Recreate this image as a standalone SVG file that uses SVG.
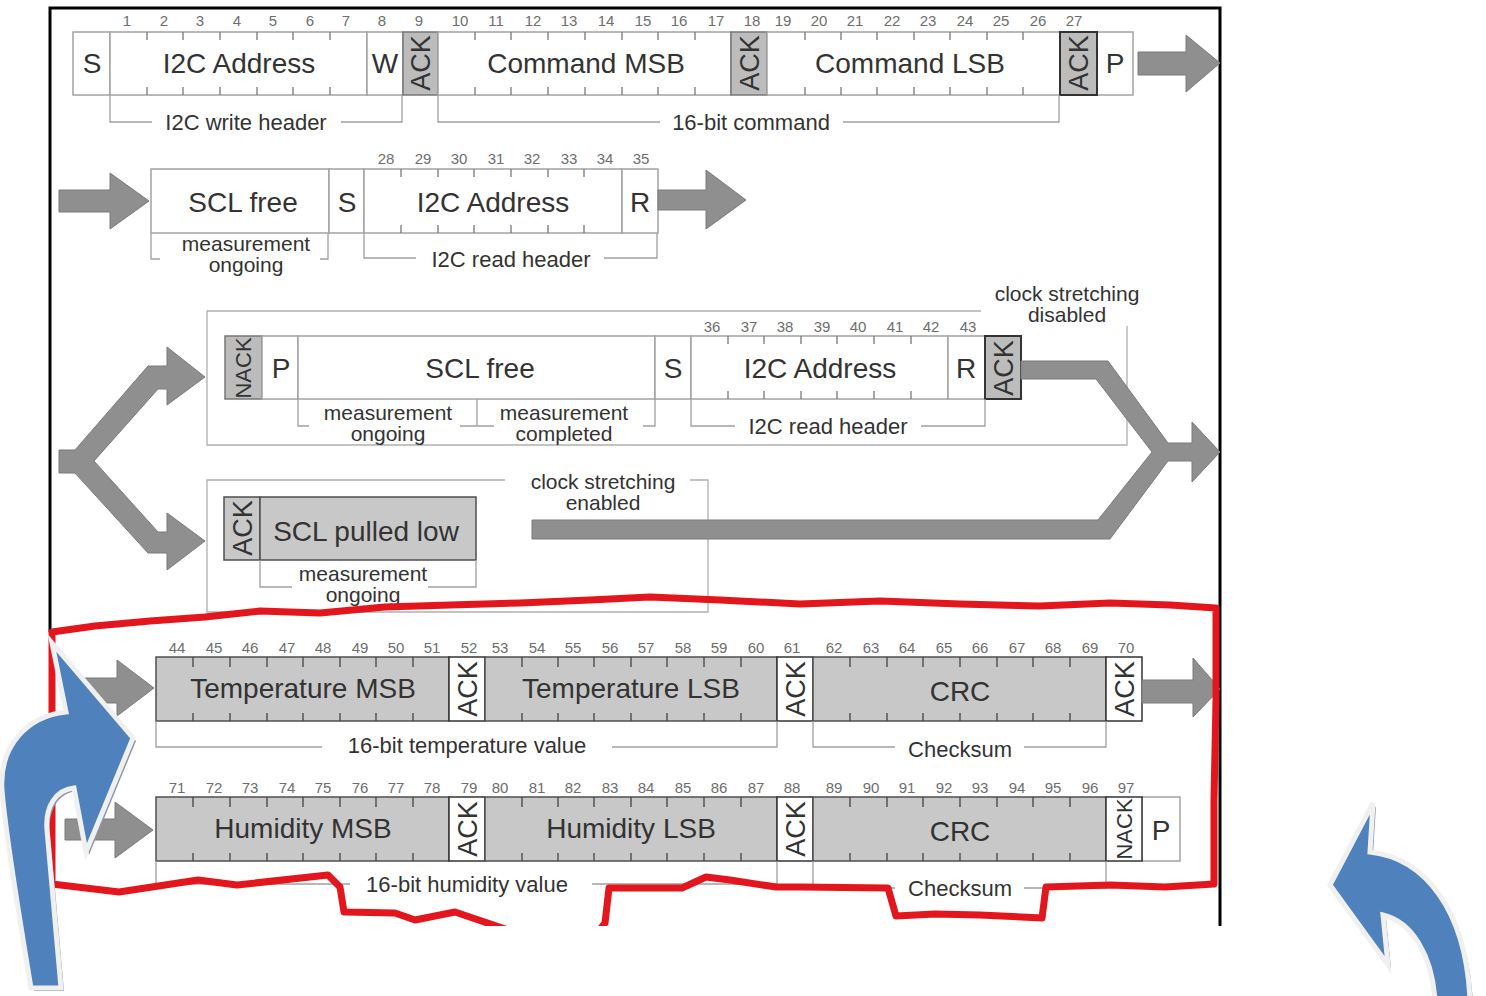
<svg xmlns="http://www.w3.org/2000/svg" width="1486" height="996" viewBox="0 0 1486 996">
<style>
text{font-family:"Liberation Sans",Arial,sans-serif;fill:#333;text-anchor:middle}
.L{font-size:28px}
.M{font-size:22px}
.S{font-size:21px}
.R{font-size:27px}
.N{font-size:22px}
.n{font-size:15px;fill:#6e6e6e}
.bx{fill:#fff;stroke:#a3a3a3;stroke-width:1.5}
.ak{fill:#bcbcbc;stroke:#777;stroke-width:1.5}
.akd{fill:#bcbcbc;stroke:#333;stroke-width:2}
.gb{fill:#c8c8c8;stroke:#4f4f4f;stroke-width:1.5}
.wb{fill:#fff;stroke:#333;stroke-width:1.5}
.tk{fill:none;stroke:#777;stroke-width:1.3}
.tkd{fill:none;stroke:#444;stroke-width:1.3}
.br{fill:none;stroke:#a0a0a0;stroke-width:1.3}
.fr{fill:none;stroke:#b0b0b0;stroke-width:1.3}
.ga{fill:#8f8f8f;stroke:#7b7b7b;stroke-width:1}
.blue{fill:#4f81bd;stroke:#f0f0f0;stroke-width:5;stroke-linejoin:miter}
.shadow{fill:#8a97a8}
</style>
<defs>
<clipPath id="cut"><rect x="0" y="0" width="1486" height="926"/></clipPath>
</defs>
<rect width="1486" height="996" fill="#fff"/>
<g id="frame" fill="none" stroke="#000" stroke-width="3">
<path d="M50 632V8H1220V926"/>
</g>

<!-- Row 1 -->
<g id="row1">
<g id="r1-S"><rect class="bx" x="73" y="32" width="37" height="63"/><text class="L" x="92" y="73">S</text></g>
<g id="r1-addr"><rect class="bx" x="110" y="32" width="257" height="63"/><text class="L" x="239" y="73">I2C Address</text></g>
<g id="r1-W"><rect class="bx" x="367" y="32" width="36" height="63"/><text class="L" x="385" y="73">W</text></g>
<g id="r1-ack1"><rect class="ak" x="403" y="32" width="35" height="63"/><text class="R" transform="translate(420,63) rotate(-90)" y="10">ACK</text></g>
<g id="r1-cmsb"><rect class="bx" x="438" y="32" width="293" height="63"/><text class="L" x="586" y="73">Command MSB</text></g>
<g id="r1-ack2"><rect class="ak" x="731" y="32" width="36" height="63"/><text class="R" transform="translate(749,63) rotate(-90)" y="10">ACK</text></g>
<g id="r1-clsb"><rect class="bx" x="767" y="32" width="293" height="63"/><text class="L" x="910" y="73">Command LSB</text></g>
<g id="r1-P"><rect class="bx" x="1097" y="32" width="36" height="63"/><text class="L" x="1115" y="73">P</text></g>
<g id="r1-ack3"><rect class="akd" x="1060" y="32" width="37" height="63"/><text class="R" transform="translate(1078,63) rotate(-90)" y="10">ACK</text></g>
<path class="tk" d="M147 32v8M147 95v-8M183 32v8M183 95v-8M220 32v8M220 95v-8M257 32v8M257 95v-8M293 32v8M293 95v-8M330 32v8M330 95v-8M475 32v8M475 95v-8M511 32v8M511 95v-8M548 32v8M548 95v-8M585 32v8M585 95v-8M622 32v8M622 95v-8M658 32v8M658 95v-8M695 32v8M695 95v-8M805 32v8M805 95v-8M841 32v8M841 95v-8M877 32v8M877 95v-8M914 32v8M914 95v-8M950 32v8M950 95v-8M987 32v8M987 95v-8M1023 32v8M1023 95v-8"/>
<g class="nums">
<text class="n" x="127" y="26">1</text><text class="n" x="164" y="26">2</text><text class="n" x="200" y="26">3</text><text class="n" x="237" y="26">4</text><text class="n" x="273" y="26">5</text><text class="n" x="310" y="26">6</text><text class="n" x="346" y="26">7</text><text class="n" x="382" y="26">8</text><text class="n" x="419" y="26">9</text><text class="n" x="460" y="26">10</text><text class="n" x="496" y="26">11</text><text class="n" x="533" y="26">12</text><text class="n" x="569" y="26">13</text><text class="n" x="606" y="26">14</text><text class="n" x="643" y="26">15</text><text class="n" x="679" y="26">16</text><text class="n" x="716" y="26">17</text><text class="n" x="752" y="26">18</text><text class="n" x="783" y="26">19</text><text class="n" x="819" y="26">20</text><text class="n" x="855" y="26">21</text><text class="n" x="892" y="26">22</text><text class="n" x="928" y="26">23</text><text class="n" x="965" y="26">24</text><text class="n" x="1001" y="26">25</text><text class="n" x="1038" y="26">26</text><text class="n" x="1074" y="26">27</text>
</g>
<g id="r1-brackets">
<path class="br" d="M110 95V122H152M341 122H402V95M438 95V122H660M843 122H1059V95"/>
<text class="M" x="246" y="130">I2C write header</text>
<text class="M" x="751" y="130">16-bit command</text>
</g>
</g>

<!-- Row 2 -->
<g id="row2">
<g id="r2-scl"><rect class="bx" x="151" y="169" width="178" height="64"/><text class="L" x="243" y="212">SCL free</text></g>
<g id="r2-S"><rect class="bx" x="329" y="169" width="35" height="64"/><text class="L" x="347" y="212">S</text></g>
<g id="r2-addr"><rect class="bx" x="364" y="169" width="258" height="64"/><text class="L" x="493" y="212">I2C Address</text></g>
<g id="r2-R"><rect class="bx" x="622" y="169" width="36" height="64"/><text class="L" x="640" y="212">R</text></g>
<path class="tk" d="M401 169v8M401 233v-8M438 169v8M438 233v-8M474 169v8M474 233v-8M511 169v8M511 233v-8M548 169v8M548 233v-8M584 169v8M584 233v-8"/>
<text class="n" x="386" y="164">28</text><text class="n" x="423" y="164">29</text><text class="n" x="459" y="164">30</text><text class="n" x="496" y="164">31</text><text class="n" x="532" y="164">32</text><text class="n" x="569" y="164">33</text><text class="n" x="605" y="164">34</text><text class="n" x="641" y="164">35</text>
<path class="br" d="M151 233V259H160M320 259H328V233M364 233V258H416M604 258H657V233"/>
<text class="S" x="246" y="251">measurement</text><text class="S" x="246" y="272">ongoing</text>
<text class="M" x="511" y="267">I2C read header</text>
</g>

<!-- Row 3 -->
<g id="row3">
<path class="fr" d="M981 311H207V445H1127V326"/>
<text class="S" x="1067" y="301">clock stretching</text><text class="S" x="1067" y="322">disabled</text>
<g id="r3-nack"><rect class="ak" x="225" y="336" width="37" height="63"/><text class="N" transform="translate(243,368) rotate(-90)" y="8">NACK</text></g>
<g id="r3-P"><rect class="bx" x="262" y="336" width="36" height="63"/><text class="L" x="281" y="378">P</text></g>
<g id="r3-scl"><rect class="bx" x="298" y="336" width="357" height="63"/><text class="L" x="480" y="378">SCL free</text></g>
<g id="r3-S"><rect class="bx" x="655" y="336" width="36" height="63"/><text class="L" x="673" y="378">S</text></g>
<g id="r3-addr"><rect class="bx" x="691" y="336" width="257" height="63"/><text class="L" x="820" y="378">I2C Address</text></g>
<g id="r3-R"><rect class="bx" x="948" y="336" width="37" height="63"/><text class="L" x="966" y="378">R</text></g>
<g id="r3-ack"><rect class="akd" x="985" y="336" width="36" height="63"/><text class="R" transform="translate(1003,368) rotate(-90)" y="10">ACK</text></g>
<path class="tk" d="M728 336v8M728 399v-8M764 336v8M764 399v-8M801 336v8M801 399v-8M837 336v8M837 399v-8M874 336v8M874 399v-8M911 336v8M911 399v-8"/>
<text class="n" x="712" y="332">36</text><text class="n" x="749" y="332">37</text><text class="n" x="785" y="332">38</text><text class="n" x="822" y="332">39</text><text class="n" x="858" y="332">40</text><text class="n" x="895" y="332">41</text><text class="n" x="931" y="332">42</text><text class="n" x="968" y="332">43</text>
<path class="br" d="M298 399V426H309M460 426H494M477 426V399M643 426H655V399M691 399V426H735M921 426H985V399"/>
<text class="S" x="388" y="420">measurement</text><text class="S" x="388" y="441">ongoing</text>
<text class="S" x="564" y="420">measurement</text><text class="S" x="564" y="441">completed</text>
<text class="M" x="828" y="434">I2C read header</text>
</g>

<!-- Row 4 -->
<g id="row4">
<path class="fr" d="M505 480H207V612H708V480H690"/>
<text class="S" x="603" y="489">clock stretching</text><text class="S" x="603" y="510">enabled</text>
<g id="r4-ack"><rect class="gb" x="224" y="497" width="36" height="63"/><text class="R" transform="translate(242,528) rotate(-90)" y="10">ACK</text></g>
<g id="r4-scl"><rect class="gb" x="260" y="497" width="216" height="63"/><text class="L" x="366" y="541">SCL pulled low</text></g>
<path class="br" d="M260 560V587H292M428 587H476V560"/>
<text class="S" x="363" y="581">measurement</text><text class="S" x="363" y="602">ongoing</text>
</g>

<!-- Row 5 -->
<g id="row5">
<g id="r5-tmsb"><rect class="gb" x="156" y="657" width="293" height="64"/><text class="L" x="303" y="698">Temperature MSB</text></g>
<g id="r5-ack1"><rect class="wb" x="449" y="657" width="36" height="64"/><text class="R" transform="translate(467,689) rotate(-90)" y="10">ACK</text></g>
<g id="r5-tlsb"><rect class="gb" x="485" y="657" width="292" height="64"/><text class="L" x="631" y="698">Temperature LSB</text></g>
<g id="r5-ack2"><rect class="wb" x="777" y="657" width="36" height="64"/><text class="R" transform="translate(795,689) rotate(-90)" y="10">ACK</text></g>
<g id="r5-crc"><rect class="gb" x="813" y="657" width="293" height="64"/><text class="L" x="960" y="701">CRC</text></g>
<g id="r5-ack3"><rect class="wb" x="1106" y="657" width="36" height="64"/><text class="R" transform="translate(1124,689) rotate(-90)" y="10">ACK</text></g>
<path class="tkd" d="M193 657v10M193 721v-8M230 657v10M230 721v-8M267 657v10M267 721v-8M303 657v10M303 721v-8M340 657v10M340 721v-8M376 657v10M376 721v-8M413 657v10M413 721v-8M522 657v10M522 721v-8M558 657v10M558 721v-8M594 657v10M594 721v-8M631 657v10M631 721v-8M667 657v10M667 721v-8M704 657v10M704 721v-8M741 657v10M741 721v-8M850 657v10M850 721v-8M887 657v10M887 721v-8M923 657v10M923 721v-8M960 657v10M960 721v-8M997 657v10M997 721v-8M1033 657v10M1033 721v-8M1070 657v10M1070 721v-8"/>
<text class="n" x="177" y="653">44</text><text class="n" x="214" y="653">45</text><text class="n" x="250" y="653">46</text><text class="n" x="287" y="653">47</text><text class="n" x="323" y="653">48</text><text class="n" x="360" y="653">49</text><text class="n" x="396" y="653">50</text><text class="n" x="432" y="653">51</text><text class="n" x="469" y="653">52</text><text class="n" x="500" y="653">53</text><text class="n" x="537" y="653">54</text><text class="n" x="573" y="653">55</text><text class="n" x="610" y="653">56</text><text class="n" x="646" y="653">57</text><text class="n" x="683" y="653">58</text><text class="n" x="719" y="653">59</text><text class="n" x="756" y="653">60</text><text class="n" x="792" y="653">61</text><text class="n" x="834" y="653">62</text><text class="n" x="871" y="653">63</text><text class="n" x="907" y="653">64</text><text class="n" x="944" y="653">65</text><text class="n" x="980" y="653">66</text><text class="n" x="1017" y="653">67</text><text class="n" x="1053" y="653">68</text><text class="n" x="1090" y="653">69</text><text class="n" x="1126" y="653">70</text>
<path class="br" d="M156 721V747H322M612 747H777V721M813 721V747H895M1024 747H1106V721"/>
<text class="M" x="467" y="753">16-bit temperature value</text>
<text class="M" x="960" y="757">Checksum</text>
</g>

<!-- Row 6 -->
<g id="row6">
<g id="r6-hmsb"><rect class="gb" x="156" y="797" width="293" height="64"/><text class="L" x="303" y="838">Humidity MSB</text></g>
<g id="r6-ack1"><rect class="wb" x="449" y="797" width="36" height="64"/><text class="R" transform="translate(467,829) rotate(-90)" y="10">ACK</text></g>
<g id="r6-hlsb"><rect class="gb" x="485" y="797" width="292" height="64"/><text class="L" x="631" y="838">Humidity LSB</text></g>
<g id="r6-ack2"><rect class="wb" x="777" y="797" width="36" height="64"/><text class="R" transform="translate(795,829) rotate(-90)" y="10">ACK</text></g>
<g id="r6-crc"><rect class="gb" x="813" y="797" width="293" height="64"/><text class="L" x="960" y="841">CRC</text></g>
<g id="r6-P"><rect class="bx" x="1142" y="797" width="38" height="64"/><text class="L" x="1161" y="840">P</text></g>
<g id="r6-nack"><rect class="wb" x="1106" y="797" width="36" height="64"/><text class="N" transform="translate(1124,829) rotate(-90)" y="8">NACK</text></g>
<path class="tkd" d="M193 797v10M193 861v-8M230 797v10M230 861v-8M267 797v10M267 861v-8M303 797v10M303 861v-8M340 797v10M340 861v-8M376 797v10M376 861v-8M413 797v10M413 861v-8M522 797v10M522 861v-8M558 797v10M558 861v-8M594 797v10M594 861v-8M631 797v10M631 861v-8M667 797v10M667 861v-8M704 797v10M704 861v-8M741 797v10M741 861v-8M850 797v10M850 861v-8M887 797v10M887 861v-8M923 797v10M923 861v-8M960 797v10M960 861v-8M997 797v10M997 861v-8M1033 797v10M1033 861v-8M1070 797v10M1070 861v-8"/>
<text class="n" x="177" y="793">71</text><text class="n" x="214" y="793">72</text><text class="n" x="250" y="793">73</text><text class="n" x="287" y="793">74</text><text class="n" x="323" y="793">75</text><text class="n" x="360" y="793">76</text><text class="n" x="396" y="793">77</text><text class="n" x="432" y="793">78</text><text class="n" x="469" y="793">79</text><text class="n" x="500" y="793">80</text><text class="n" x="537" y="793">81</text><text class="n" x="573" y="793">82</text><text class="n" x="610" y="793">83</text><text class="n" x="646" y="793">84</text><text class="n" x="683" y="793">85</text><text class="n" x="719" y="793">86</text><text class="n" x="756" y="793">87</text><text class="n" x="792" y="793">88</text><text class="n" x="834" y="793">89</text><text class="n" x="871" y="793">90</text><text class="n" x="907" y="793">91</text><text class="n" x="944" y="793">92</text><text class="n" x="980" y="793">93</text><text class="n" x="1017" y="793">94</text><text class="n" x="1053" y="793">95</text><text class="n" x="1090" y="793">96</text><text class="n" x="1126" y="793">97</text>
<path class="br" d="M156 861V884H350M592 884H777V861M813 861V888H895M1024 888H1106V861"/>
<text class="M" x="467" y="892">16-bit humidity value</text>
<text class="M" x="960" y="896">Checksum</text>
</g>

<!-- Connectors (gray flow arrows) -->
<g id="connectors">
<polygon class="ga" points="1138,52 1186,52 1186,35 1220,63 1186,92 1186,75 1138,75"/>
<polygon class="ga" points="59,190 110,190 110,173 149,201 110,229 110,212 59,212"/>
<polygon class="ga" points="658,190 706,190 706,170 746,200 706,229 706,210 658,210"/>
<polygon class="ga" points="59,450 75,450 148,366 167,366 167,347 205,377 167,405 167,389 158,389 94,461 158,532 167,532 167,513 205,541 167,570 167,553 148,553 75,473 59,473"/>
<polygon class="ga" points="1021,361 1108,361 1168,443 1192,443 1192,422 1220,452 1192,482 1192,461 1168,461 1110,539 532,539 532,520 1098,520 1152,452 1096,379 1021,379"/>
<polygon class="ga" points="83,678 117,678 117,660 154,688 117,716 117,703 83,703"/>
<polygon class="ga" points="1142,680 1193,680 1193,658 1220,689 1193,717 1193,703 1142,703"/>
<polygon class="ga" points="65,819 115,819 115,802 153,830 115,858 115,840 65,840"/>
</g>

<!-- Red highlight -->
<g id="highlight" clip-path="url(#cut)">
<path d="M52 632L95 626L150 621L205 617L260 611L320 613L385 607L450 605L520 603L590 600L650 597L720 600L800 604L880 601L960 604L1040 606L1110 603L1170 605L1216 608L1216 700L1214 800L1214 884L1165 887L1110 885L1046 887L1042 918L980 915L935 914L896 916L888 888L800 887L776 887L730 880L706 877L682 888L609 888L605 923L598 932L514 932L455 912L415 920L395 913L344 912L340 887L328 875L237 885L198 880L119 892L52 884Z" fill="none" stroke="#e3161d" stroke-width="7" stroke-linejoin="round"/>
</g>

<!-- Blue curved arrows -->
<g id="blue-left">
<path class="shadow" transform="translate(3,3)" d="M31 988C20 920 6 840 2 790C-1 745 28 716 66 712L52 643L133 738L86 852L74 788C56 790 45 806 47 830L61 988Z"/>
<path class="blue" d="M31 988C20 920 6 840 2 790C-1 745 28 716 66 712L52 643L133 738L86 852L74 788C56 790 45 806 47 830L61 988Z"/>
</g>
<g id="blue-right">
<path class="shadow" transform="translate(3,3)" d="M1435 1000C1432 955 1412 922 1383 915L1388 965L1330 885L1373 803L1370 852C1425 858 1466 910 1470 1000Z"/>
<path class="blue" d="M1435 1000C1432 955 1412 922 1383 915L1388 965L1330 885L1373 803L1370 852C1425 858 1466 910 1470 1000Z"/>
</g>
</svg>
